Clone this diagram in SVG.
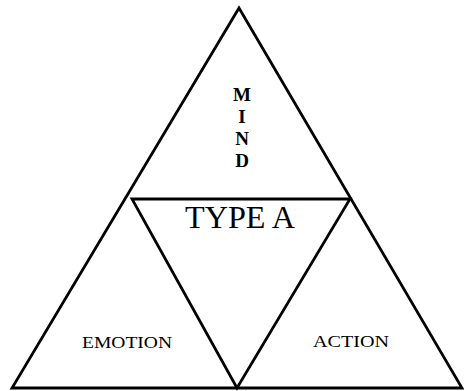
<svg xmlns="http://www.w3.org/2000/svg" width="464" height="391" viewBox="0 0 464 391">
<style>
.ln{fill:none;stroke:#000;stroke-width:2.8;stroke-linejoin:miter}
.t{font-family:"Liberation Serif","Times New Roman",serif;fill:#000;text-anchor:middle}
.m{font-size:19px;font-weight:bold}
</style>
<rect width="464" height="391" fill="#fff"/>
<g id="outer">
<polygon class="ln" points="239,8 12,388 462,388"/>
</g>
<g id="type-a">
<polygon class="ln" points="132,199 350,199 237,388"/>
<text class="t" x="240" y="228" font-size="31" textLength="110" lengthAdjust="spacingAndGlyphs">TYPE A</text>
</g>
<g id="mind">
<text class="t m" x="242" y="101">M</text>
<text class="t m" x="242" y="123">I</text>
<text class="t m" x="242" y="145">N</text>
<text class="t m" x="242" y="167">D</text>
</g>
<g id="emotion">
<text class="t" x="127" y="348" font-size="16" textLength="90" lengthAdjust="spacingAndGlyphs">EMOTION</text>
</g>
<g id="action">
<text class="t" x="351" y="347" font-size="16" textLength="76" lengthAdjust="spacingAndGlyphs">ACTION</text>
</g>
</svg>
